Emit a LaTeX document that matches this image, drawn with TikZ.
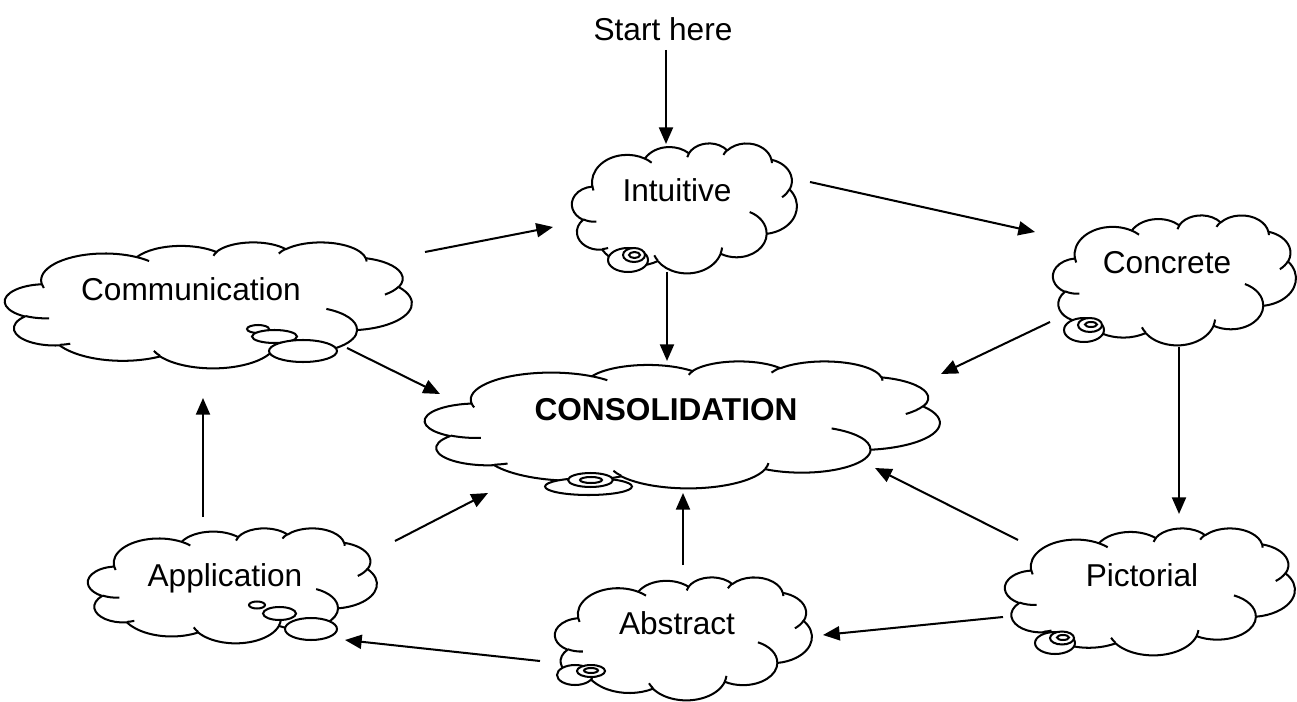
\documentclass[tikz,border=0pt]{standalone}
\usepackage{fontspec}
\setmainfont{Liberation Sans}
\usetikzlibrary{arrows.meta}
\tikzset{
  cloudline/.style={line width=1.15pt, line join=round},
  bubble/.style={line width=1.15pt, fill=white},
  conn/.style={line width=1.15pt, -{Triangle[length=9.5pt,width=8pt]}},
  lbl/.style={font=\fontsize{18}{21.6}\selectfont, anchor=base, inner sep=0pt},
}
\newcommand\wcloud[4]{%
  \begin{scope}[shift={(#1,#2)}, xscale={(#3-#1)*0.0131726}, yscale={-(#4-#2)*0.0131726}]
    \draw[cloudline, fill=white] (3.9pt,14.37pt)
      arc[start angle=-187.745, delta angle=128.077, x radius=6.753pt, y radius=9.19pt]
      arc[start angle=-152.02, delta angle=106.534, x radius=5.333pt, y radius=7.267pt]
      arc[start angle=-153.48, delta angle=116.153, x radius=4.365pt, y radius=5.945pt]
      arc[start angle=-139.71, delta angle=129.499, x radius=4.857pt, y radius=6.595pt]
      arc[start angle=-74.777, delta angle=97.986, x radius=5.333pt, y radius=7.273pt]
      arc[start angle=-37.524, delta angle=119.385, x radius=6.775pt, y radius=9.22pt]
      arc[start angle=0.4596, delta angle=121.51, x radius=5.785pt, y radius=7.867pt]
      arc[start angle=16.845, delta angle=129.385, x radius=6.752pt, y radius=9.215pt]
      arc[start angle=59.022, delta angle=91.168, x radius=7.72pt, y radius=10.543pt]
      arc[start angle=-276.696, delta angle=139.796, x radius=4.36pt, y radius=5.918pt]
      arc[start angle=-239.62, delta angle=143.73, x radius=4.345pt, y radius=5.945pt]
      -- cycle;
    \draw[cloudline]
      (4.693pt,26.177pt) arc[start angle=85.54, delta angle=34.84, x radius=4.345pt, y radius=5.945pt]
      (6.928pt,34.899pt) arc[start angle=68.24, delta angle=15.06, x radius=4.36pt, y radius=5.918pt]
      (16.478pt,39.09pt) arc[start angle=146.23, delta angle=12.24, x radius=6.752pt, y radius=9.215pt]
      (28.827pt,34.751pt) arc[start angle=4.737, delta angle=12.108, x radius=6.752pt, y radius=9.215pt]
      (34.129pt,22.954pt) arc[start angle=-64.021, delta angle=64.48, x radius=5.785pt, y radius=7.867pt]
      (41.798pt,15.354pt) arc[start angle=23.209, delta angle=26.45, x radius=5.333pt, y radius=7.273pt]
      (38.324pt,5.426pt) arc[start angle=-10.211, delta angle=11.03, x radius=4.857pt, y radius=6.595pt]
      (29.078pt,3.952pt) arc[start angle=-156.28, delta angle=16.57, x radius=4.857pt, y radius=6.595pt]
      (22.141pt,4.72pt) arc[start angle=-167.725, delta angle=14.245, x radius=4.365pt, y radius=5.945pt]
      (14pt,5.192pt) arc[start angle=-59.668, delta angle=13.92, x radius=6.753pt, y radius=9.19pt]
      (4.127pt,15.789pt) arc[start angle=163.188, delta angle=9.067, x radius=6.753pt, y radius=9.19pt];
  \end{scope}}
\begin{document}
\begin{tikzpicture}[x=0.02cm, y=-0.02cm]
\useasboundingbox[fill=white] (0,0) rectangle (1297,702);

% clouds
\wcloud{572}{143}{797}{273}
\wcloud{1053}{215}{1296}{345}
\wcloud{5}{242}{412}{368}
\wcloud{425}{361}{940}{488}
\wcloud{88}{528}{377}{643}
\wcloud{555}{577}{812}{700}
\wcloud{1005}{528}{1295}{655}

% thought bubbles
\draw[bubble] (628,260) ellipse[x radius=11.38pt, y radius=6.83pt];
\draw[bubble] (634,255) ellipse[x radius=6.26pt, y radius=3.98pt];
\draw[bubble] (634.5,255) ellipse[x radius=3.13pt, y radius=1.71pt];

\draw[bubble] (258,329) ellipse[x radius=6.26pt, y radius=2.28pt];
\draw[bubble] (274.5,336.5) ellipse[x radius=12.8pt, y radius=3.7pt];
\draw[bubble] (303,351) ellipse[x radius=19.35pt, y radius=6.26pt];

\draw[bubble] (588.5,486.5) ellipse[x radius=24.75pt, y radius=4.84pt];
\draw[bubble] (590.5,480) ellipse[x radius=12.8pt, y radius=3.98pt];
\draw[bubble] (591,480) ellipse[x radius=6.26pt, y radius=1.71pt];

\draw[bubble] (1084,330) ellipse[x radius=11.38pt, y radius=6.83pt];
\draw[bubble] (1090,325) ellipse[x radius=6.83pt, y radius=3.98pt];
\draw[bubble] (1091,324.5) ellipse[x radius=3.41pt, y radius=1.42pt];

\draw[bubble] (257,605) ellipse[x radius=4.55pt, y radius=1.99pt];
\draw[bubble] (279.5,613.5) ellipse[x radius=9.39pt, y radius=3.7pt];
\draw[bubble] (311,629) ellipse[x radius=14.8pt, y radius=6.26pt];

\draw[bubble] (1055,643) ellipse[x radius=11.38pt, y radius=6.26pt];
\draw[bubble] (1062,638) ellipse[x radius=6.83pt, y radius=3.7pt];
\draw[bubble] (1063,637.5) ellipse[x radius=3.41pt, y radius=1.42pt];

\draw[bubble] (575,675) ellipse[x radius=10.24pt, y radius=5.69pt];
\draw[bubble] (591,671) ellipse[x radius=7.97pt, y radius=3.41pt];
\draw[bubble] (591,670.5) ellipse[x radius=3.98pt, y radius=1.42pt];

% labels
\node[lbl] (start) at (663,41) {Start here};
\node[lbl] (intuitive) at (677,202) {Intuitive};
\node[lbl] (concrete) at (1167,274) {Concrete};
\node[lbl] (communication) at (191,300) {Communication};
\node[lbl, font=\fontsize{18}{21.6}\selectfont\bfseries] (consolidation) at (666,420) {CONSOLIDATION};
\node[lbl] (application) at (225,586) {Application};
\node[lbl] (abstract) at (677,634) {Abstract};
\node[lbl] (pictorial) at (1142,586) {Pictorial};

% connector end points
\coordinate (a1s) at (666,50);   \coordinate (a1e) at (666,144);
\coordinate (a2s) at (810,182);  \coordinate (a2e) at (1035,232);
\coordinate (a3s) at (425,252);  \coordinate (a3e) at (553,227);
\coordinate (a4s) at (667,272);  \coordinate (a4e) at (667,361);
\coordinate (a5s) at (1050,322); \coordinate (a5e) at (941,374);
\coordinate (a6s) at (347,348);  \coordinate (a6e) at (440,394);
\coordinate (a7s) at (1179,347); \coordinate (a7e) at (1179,514);
\coordinate (a8s) at (1018,540); \coordinate (a8e) at (875,468);
\coordinate (a9s) at (1003,617); \coordinate (a9e) at (823,635);
\coordinate (a10s) at (683,565); \coordinate (a10e) at (683,493);
\coordinate (a11s) at (540,661); \coordinate (a11e) at (345,640);
\coordinate (a12s) at (395,541); \coordinate (a12e) at (488,493);
\coordinate (a13s) at (203,517); \coordinate (a13e) at (203,398);

\draw[conn] (a1s) -- (a1e);
\draw[conn] (a2s) -- (a2e);
\draw[conn] (a3s) -- (a3e);
\draw[conn] (a4s) -- (a4e);
\draw[conn] (a5s) -- (a5e);
\draw[conn] (a6s) -- (a6e);
\draw[conn] (a7s) -- (a7e);
\draw[conn] (a8s) -- (a8e);
\draw[conn] (a9s) -- (a9e);
\draw[conn] (a10s) -- (a10e);
\draw[conn] (a11s) -- (a11e);
\draw[conn] (a12s) -- (a12e);
\draw[conn] (a13s) -- (a13e);
\end{tikzpicture}
\end{document}
